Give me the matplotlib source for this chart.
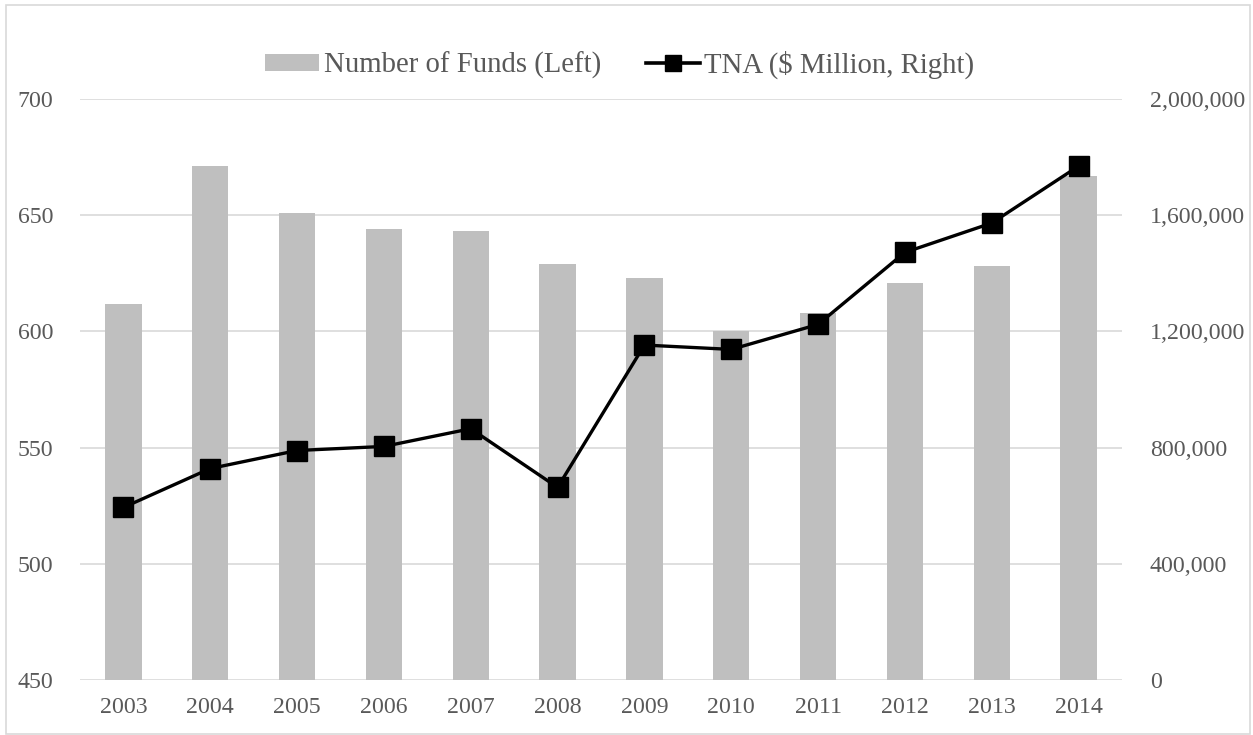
import matplotlib
matplotlib.use("Agg")
import matplotlib.pyplot as plt
from matplotlib.patches import Rectangle
from matplotlib.ticker import FuncFormatter
from matplotlib.lines import Line2D
from matplotlib.patches import Patch

years = ["2003", "2004", "2005", "2006", "2007", "2008", "2009", "2010", "2011", "2012", "2013", "2014"]
num_funds = [612, 671, 651, 644, 643, 629, 623, 600, 608, 621, 628, 667]
tna = [594000, 728000, 790000, 804000, 865000, 663000, 1153000, 1138000, 1224000, 1472000, 1573000, 1769000]

left_ticks = [450, 500, 550, 600, 650, 700]
right_ticks = [0, 400000, 800000, 1200000, 1600000, 2000000]

plt.rcParams['font.family'] = ['Liberation Serif', 'DejaVu Serif']
tick_color = '#595959'
grid_color = '#d9d9d9'

fig = plt.figure(figsize=(12.53, 7.35), dpi=100)
ax = fig.add_axes([80/1253, 1-680/735, (1122-80)/1253, (680-99)/735])
x = list(range(len(years)))
ax.bar(x, [v - 450 for v in num_funds], bottom=450, width=0.42, color='#bfbfbf', zorder=2)
ax.set_ylim(450, 700)
ax.set_xlim(-0.5, len(years) - 0.5)
ax.set_yticks(left_ticks)
ax.set_xticks(x)
ax.set_xticklabels(years)
ax.grid(axis='y', color=grid_color, linewidth=1.2, zorder=0)
ax.set_axisbelow(True)
for s in ax.spines.values():
    s.set_visible(False)
ax.tick_params(axis='both', length=0, labelsize=17.2, colors=tick_color, pad=12)
ax.tick_params(axis='y', pad=19)

ax2 = ax.twinx()
ax2.plot(x, tna, color='black', linewidth=2.4, marker='s', markersize=15, zorder=5)
ax2.set_ylim(0, 2000000)
ax2.set_yticks(right_ticks)
ax2.yaxis.set_major_formatter(FuncFormatter(lambda v, p: f"{int(v):,}"))
for s in ax2.spines.values():
    s.set_visible(False)
ax2.tick_params(axis='y', length=0, labelsize=17.2, colors=tick_color, pad=20)

handles = [Patch(facecolor='#bfbfbf', edgecolor='none'),
           Line2D([0], [0], color='black', linewidth=2.6, marker='s', markersize=11.5)]
labels = ["Number of Funds (Left)", "TNA ($ Million, Right)"]
fig.legend(handles, labels, loc='center', bbox_to_anchor=(620/1253, 1-65/735), ncol=2,
           frameon=False, fontsize=20.7, handlelength=1.88, handleheight=0.55,
           handletextpad=0.17, columnspacing=1.53, labelcolor=tick_color,
           borderpad=0, borderaxespad=0)

fig.add_artist(Rectangle((6/1253, 1/735), (1250-6)/1253, (730-1)/735, transform=fig.transFigure,
                         fill=False, edgecolor=grid_color, linewidth=1.2))

fig.savefig("out.png", dpi=100)
